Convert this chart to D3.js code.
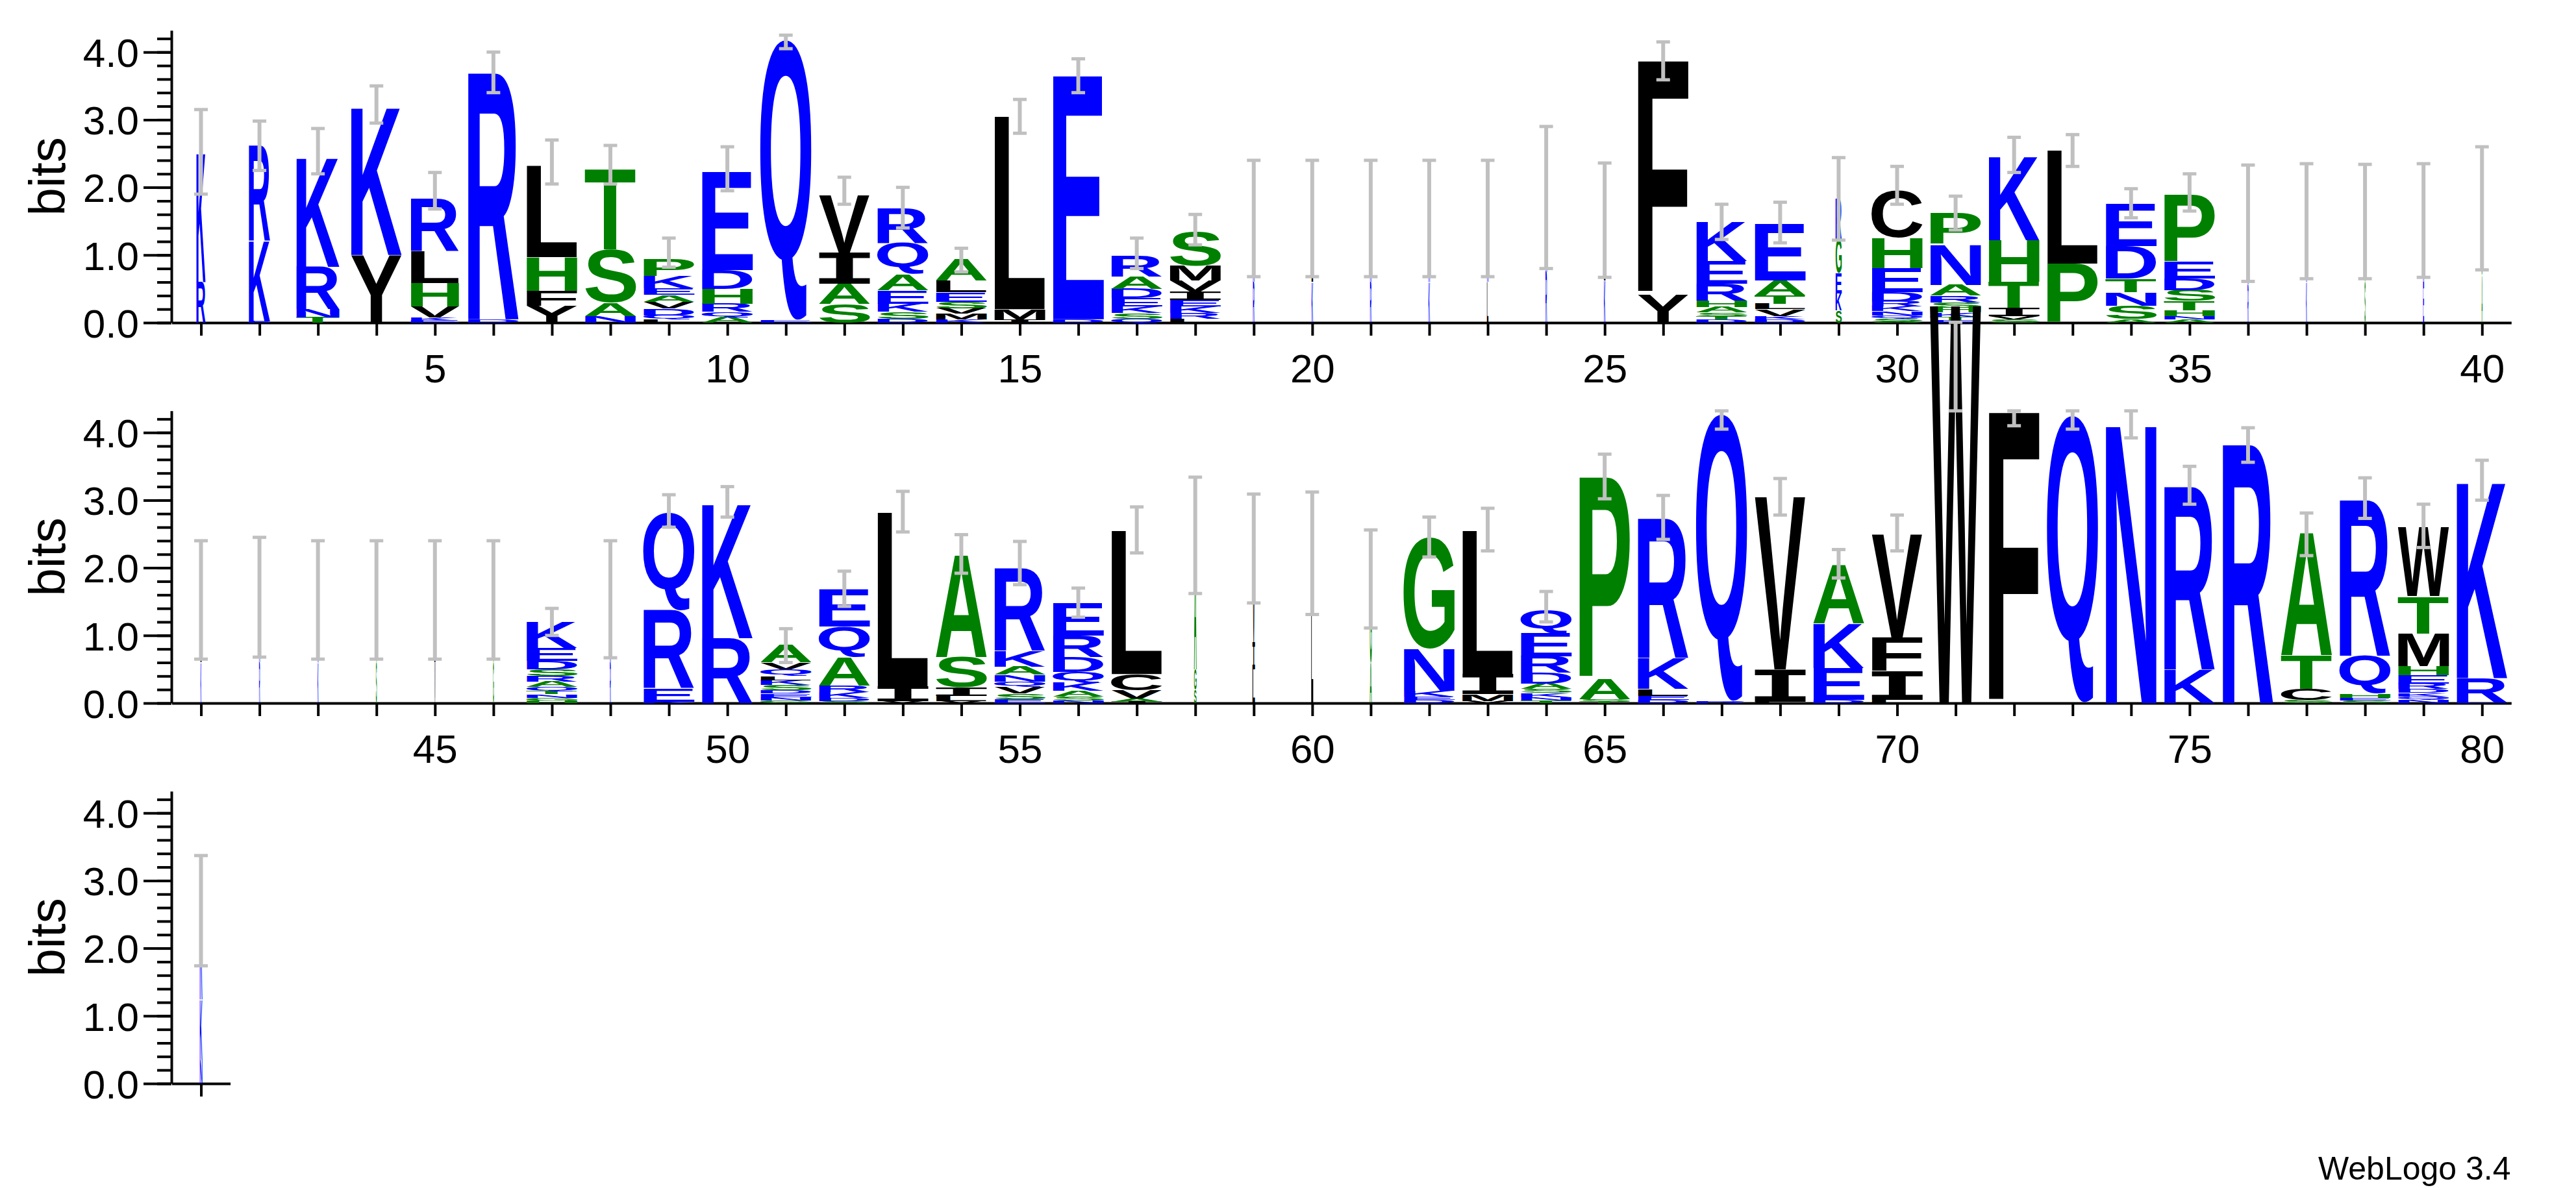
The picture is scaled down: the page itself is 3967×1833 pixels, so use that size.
<!DOCTYPE html>
<html>
<head>
<meta charset="utf-8">
<script src="https://cdn.jsdelivr.net/npm/d3@7"></script>
<style>
  body { margin: 0; background: #fff; }
  svg text { font-family: "Liberation Sans", Arial, sans-serif; }
</style>
</head>
<body>
<svg id="logo" width="3967" height="1833"></svg>
<script>
// stacks listed top to bottom: "LETTER bits"
var stacks = [
  "K 1.92,R 0.6", "R 1.4,K 1.2,E 0.02", "K 1.62,R 0.63,N 0.12,T 0.08", "K 2.2,Y 1.0",
  "R 0.77,L 0.47,H 0.35,V 0.16,K 0.05,E 0.03", "R 3.64,D 0.05", "L 1.35,H 0.5,F 0.22,Y 0.25",
  "T 1.2,S 0.78,A 0.2,N 0.1", "P 0.25,K 0.18,E 0.1,A 0.1,V 0.1,D 0.1,Q 0.06,L 0.05",
  "E 1.45,D 0.28,H 0.22,R 0.12,Q 0.08,A 0.08", "Q 4.15,E 0.03", "V 0.85,I 0.46,A 0.3,S 0.28",
  "R 0.52,Q 0.46,A 0.24,E 0.2,K 0.12,S 0.1,D 0.06", "A 0.32,L 0.17,E 0.14,S 0.1,V 0.08,M 0.08,K 0.05",
  "L 2.85,M 0.15,I 0.05", "E 3.6,D 0.05", "R 0.3,A 0.18,D 0.14,E 0.12,K 0.1,S 0.08,Q 0.06",
  "S 0.5,M 0.22,V 0.16,I 0.12,E 0.1,K 0.1,R 0.08,L 0.06",
  "K 0.9,R 0.6", "L 0.9,K 0.6", "K 0.9,R 0.6", "R 0.9,K 0.6", "K 0.9,L 0.6", "K 1.1,R 0.75", "L 0.9,K 0.62",
  "F 3.45,Y 0.42", "K 0.58,E 0.33,R 0.25,H 0.1,A 0.08,S 0.05,T 0.05,D 0.05",
  "E 0.84,A 0.22,T 0.12,L 0.08,V 0.1,K 0.05,D 0.05", "R 0.6,G 0.5,E 0.3,K 0.25,S 0.18",
  "C 0.7,H 0.45,E 0.36,D 0.13,R 0.08,K 0.07,N 0.06,Q 0.05,S 0.04,A 0.02",
  "P 0.46,N 0.6,A 0.16,R 0.1,S 0.08,H 0.07,K 0.06,T 0.05,E 0.04",
  "K 1.25,H 0.62,T 0.38,I 0.12,V 0.05,S 0.05", "L 1.67,P 0.87",
  "E 0.63,D 0.48,T 0.2,N 0.2,S 0.2,A 0.05", "P 1.0,E 0.25,D 0.17,S 0.16,T 0.14,H 0.08,N 0.05,A 0.05",
  "K 0.9,R 0.57", "R 0.9,K 0.6", "G 0.9,S 0.6", "K 0.9,E 0.6", "G 1.0,A 0.7",
  "L 0.9,K 0.6", "K 0.95,R 0.6", "R 0.9,K 0.6", "G 0.9,S 0.6", "L 0.9,V 0.6", "S 0.9,G 0.6",
  "K 0.38,E 0.2,D 0.12,S 0.1,R 0.08,A 0.08,Q 0.06,T 0.05,N 0.05,G 0.04,H 0.04", "K 0.9,R 0.6",
  "Q 1.45,R 1.15,E 0.2,K 0.02", "K 2.0,R 0.96",
  "A 0.26,V 0.1,Q 0.1,L 0.06,K 0.07,S 0.08,D 0.05,E 0.05,N 0.05,G 0.04",
  "E 0.55,Q 0.45,A 0.42,R 0.1,K 0.08,D 0.05,S 0.03", "L 2.57,I 0.22,V 0.03",
  "A 1.52,S 0.45,I 0.12,L 0.08,V 0.03", "R 1.22,K 0.24,A 0.12,N 0.1,Q 0.08,V 0.1,S 0.08,E 0.06",
  "E 0.48,R 0.32,D 0.22,Q 0.16,K 0.12,A 0.08,S 0.06,N 0.04", "L 2.12,C 0.24,V 0.12,A 0.05,I 0.02",
  "A 1.9,G 0.3,S 0.2", "V 1.4,I 0.4,L 0.5", "L 2.2", "G 1.2,A 0.6",
  "G 1.65,N 0.62,K 0.08,E 0.05,D 0.05", "L 2.12,I 0.3,M 0.1,V 0.03",
  "Q 0.35,E 0.34,R 0.24,D 0.16,A 0.08,S 0.06,K 0.06,N 0.05,T 0.04", "P 2.98,A 0.3,S 0.04,T 0.02",
  "R 2.06,K 0.46,L 0.1,E 0.06,D 0.05", "Q 4.25,R 0.02", "V 2.55,I 0.48,L 0.02",
  "A 0.87,K 0.66,E 0.47,D 0.05", "V 1.53,F 0.5,I 0.42,L 0.05", "W 5.88", "F 4.3", "Q 4.25", "N 4.15",
  "R 2.7,K 0.5", "R 3.82", "A 1.83,T 0.5,C 0.16,S 0.05", "R 2.3,Q 0.56,H 0.06,E 0.04,S 0.04",
  "W 1.02,T 0.55,M 0.48,H 0.14,E 0.12,R 0.08,D 0.06,K 0.05,Q 0.05,N 0.05", "K 2.92,R 0.36,E 0.01",
  "R 1.3,K 0.9,N 0.35"
];
var errLo = [1.9,2.25,2.2,2.95,1.68,3.4,2.05,2.05,0.82,1.95,4.05,1.75,1.4,0.75,2.8,3.4,0.8,1.15,
  0.68,0.68,0.68,0.68,0.68,0.8,0.67,3.59,1.23,1.18,1.22,1.75,1.37,2.22,2.31,1.55,1.65,
  0.61,0.65,0.65,0.67,0.78,
  0.65,0.68,0.65,0.65,0.65,0.65,1.0,0.67,2.6,2.75,0.6,1.43,2.53,1.92,1.75,1.27,2.22,1.62,1.48,1.31,1.11,
  2.16,2.25,1.2,3.02,2.42,4.05,2.78,1.85,2.25,4.32,4.1,4.05,3.92,2.94,3.56,2.18,2.73,2.3,3.0,
  1.74];
var errHi = [3.15,2.98,2.87,3.5,2.22,4.0,2.7,2.62,1.25,2.6,4.25,2.15,2.0,1.1,3.3,3.9,1.25,1.6,
  2.4,2.4,2.4,2.4,2.4,2.9,2.36,4.15,1.75,1.78,2.44,2.31,1.87,2.74,2.78,1.98,2.2,
  2.33,2.35,2.34,2.35,2.6,
  2.4,2.45,2.4,2.4,2.4,2.4,1.4,2.4,3.08,3.2,1.1,1.95,3.13,2.49,2.39,1.7,2.9,3.34,3.09,3.12,2.56,
  2.75,2.88,1.65,3.68,3.07,4.32,3.32,2.27,2.78,5.63,4.32,4.32,4.32,3.5,4.07,2.81,3.33,2.94,3.59,
  3.37];
// column width fraction (gappy columns are narrow)
var colWidth = {1: 0.18, 2: 0.42, 3: 0.85, 5: 0.95, 19: 0.03, 20: 0.03, 21: 0.03, 22: 0.03, 23: 0.03,
  24: 0.03, 25: 0.03, 29: 0.12, 36: 0.02, 37: 0.02, 38: 0.02, 39: 0.02, 40: 0.02,
  41: 0.02, 42: 0.02, 43: 0.02, 44: 0.02, 45: 0.02, 46: 0.02, 48: 0.02,
  58: 0.05, 59: 0.05, 60: 0.04, 61: 0.04, 81: 0.05};
var xTickLabels = [5, 10, 15, 20, 25, 30, 35, 40, 45, 50, 55, 60, 65, 70, 75, 80];
var yTicks = [0, 1, 2, 3, 4];

var colors = {};
"RKDENQ".split("").forEach(function (c) { colors[c] = "#0000ff"; });
"SGHTAP".split("").forEach(function (c) { colors[c] = "#008000"; });
"YVMCLFIW".split("").forEach(function (c) { colors[c] = "#000000"; });

var svg = d3.select("#logo");
var perRow = 40, rowBase = [497, 1083, 1669], step = 90.07, fullW = 79;
// the I needs serifs, so it comes from a mono face
function fontFor(c) { return c === "I" ? "'DejaVu Sans Mono'" : "'Liberation Sans'"; }
var ctx = document.createElement("canvas").getContext("2d");
var metricCache = {};
function metrics(c) {
    if (!metricCache[c]) {
        ctx.font = "bold 100px " + fontFor(c);
        var m = ctx.measureText(c);
        metricCache[c] = {l: m.actualBoundingBoxLeft, r: m.actualBoundingBoxRight,
            a: m.actualBoundingBoxAscent, d: m.actualBoundingBoxDescent};
    }
    return metricCache[c];
}

var y = d3.scaleLinear().domain([0, 4.32]).range([0, 4.32 * 104.2]);

for (var r = 0; r < 3; r++) {
    var first = r * perRow + 1;
    var last = Math.min(first + perRow - 1, stacks.length);
    var n = last - first + 1;
    var x = d3.scaleLinear().domain([first - 0.5, last + 0.5]).range([264.5, 264.5 + n * step]);
    var yr = d3.scaleLinear().domain([0, 4.32]).range([rowBase[r], rowBase[r] - y(4.32)]);
    var g = svg.append("g");

    // y axis: minor then major
    g.append("g").attr("transform", "translate(264,0)")
        .call(d3.axisLeft(yr).tickValues(d3.range(0, 4.3, 0.2)).tickSize(22).tickFormat("").tickSizeOuter(0))
        .call(function (a) { a.selectAll("line,path").attr("stroke", "#000").attr("stroke-width", 4); });
    g.append("g").attr("transform", "translate(264,0)")
        .call(d3.axisLeft(yr).tickValues(yTicks).tickSize(43).tickFormat(d3.format(".1f")).tickSizeOuter(0))
        .call(function (a) {
            a.select(".domain").remove();
            a.selectAll("line").attr("stroke", "#000").attr("stroke-width", 4);
            a.selectAll("text").attr("font-size", 62).attr("fill", "#000").attr("x", -50).attr("dy", "0.36em")
                .style("font-family", "'Liberation Sans', Arial, sans-serif");
        });
    // x axis
    var xt = d3.range(first, last + 1);
    g.append("g").attr("transform", "translate(0," + rowBase[r] + ")")
        .call(d3.axisBottom(x).tickValues(xt).tickSize(20).tickSizeOuter(0)
            .tickFormat(function (d) { return xTickLabels.indexOf(d) >= 0 ? d : ""; }))
        .call(function (a) {
            a.selectAll("line,path").attr("stroke", "#000").attr("stroke-width", 4);
            a.selectAll("text").attr("font-size", 62).attr("fill", "#000").attr("y", 92).attr("dy", 0)
                .style("font-family", "'Liberation Sans', Arial, sans-serif");
        });
    g.append("text").attr("transform", "translate(100," + (rowBase[r] - y(4.32) / 2) + ") rotate(-90)")
        .attr("text-anchor", "middle").attr("font-size", 78).text("bits");
}

// letters and error bars
var marks = svg.append("g");
stacks.forEach(function (s, i) {
    var pos = i + 1, r = Math.floor(i / perRow);
    var col = pos - r * perRow;
    var cx = 309.5 + (col - 1) * step;
    var w = fullW * (colWidth[pos] || 1);
    var base = rowBase[r];
    var items = s.split(",").map(function (t) { var p = t.trim().split(" "); return [p[0], +p[1]]; }).reverse();
    var acc = 0;
    items.forEach(function (it) {
        var h = y(it[1]);
        var top = base - y(acc) - h;
        acc += it[1];
        var m = metrics(it[0]);
        var sx = w / (m.l + m.r), sy = h / (m.a + m.d);
        marks.append("text")
            .attr("transform", "translate(" + (cx - w / 2 + m.l * sx) + "," + (top + m.a * sy) + ") scale(" + sx + "," + sy + ")")
            .attr("font-size", 100).attr("font-weight", "bold")
            .style("font-family", fontFor(it[0]))
            .attr("fill", colors[it[0]]).text(it[0]);
    });
    var lo = base - y(errLo[i]), hi = base - y(errHi[i]);
    marks.append("line").attr("x1", cx).attr("x2", cx).attr("y1", lo).attr("y2", hi)
        .attr("stroke", "#c0c0c0").attr("stroke-width", 6);
    [lo, hi].forEach(function (yy) {
        marks.append("line").attr("x1", cx - 10.5).attr("x2", cx + 10.5).attr("y1", yy).attr("y2", yy)
            .attr("stroke", "#c0c0c0").attr("stroke-width", 5);
    });
});

svg.append("text").attr("x", 3570).attr("y", 1817).attr("font-size", 50).text("WebLogo 3.4");
</script>
</body>
</html>
